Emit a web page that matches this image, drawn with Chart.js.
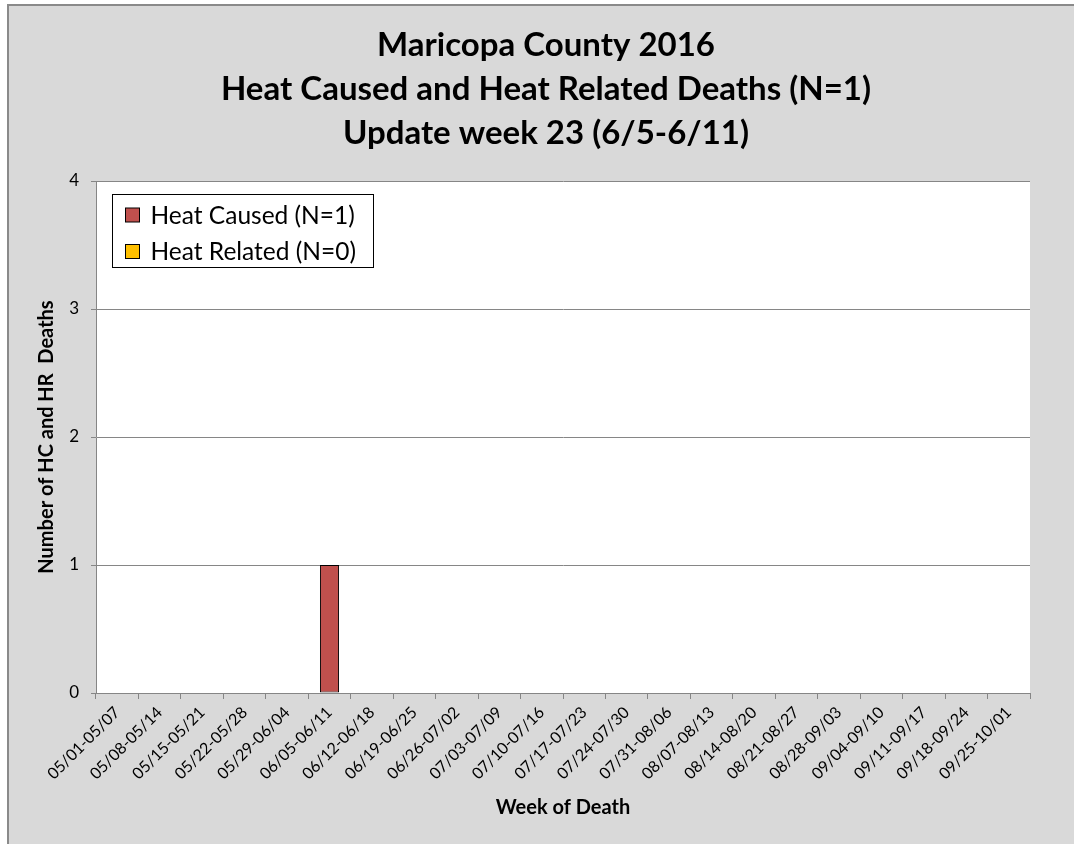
<!DOCTYPE html>
<html>
<head>
<meta charset="utf-8">
<script src="https://cdn.jsdelivr.net/npm/chart.js@4/dist/chart.umd.min.js"></script>
<style>
html,body{margin:0;padding:0;background:#ffffff;}
#wrap{position:absolute;left:0;top:0;width:1074px;height:844px;}
</style>
</head>
<body>
<div id="wrap"><canvas id="c" width="1074" height="844"></canvas></div>
<script>
// ---- data ----
const categories = ['05/01-05/07','05/08-05/14','05/15-05/21','05/22-05/28','05/29-06/04','06/05-06/11',
  '06/12-06/18','06/19-06/25','06/26-07/02','07/03-07/09','07/10-07/16','07/17-07/23','07/24-07/30',
  '07/31-08/06','08/07-08/13','08/14-08/20','08/21-08/27','08/28-09/03','09/04-09/10','09/11-09/17',
  '09/18-09/24','09/25-10/01'];
const heatCaused  = [0,0,0,0,0,1,0,0,0,0,0,0,0,0,0,0,0,0,0,0,0,0];
const heatRelated = [0,0,0,0,0,0,0,0,0,0,0,0,0,0,0,0,0,0,0,0,0,0];
const seriesLabels = ['Heat Caused (N=1)','Heat Related (N=0)'];
const yTicks = [0,1,2,3,4];
const titleLines = ['Maricopa County 2016','Heat Caused and Heat Related Deaths (N=1)','Update week 23 (6/5-6/11)'];
const xTitle = 'Week of Death';
const yTitle = 'Number of HC and HR  Deaths';

const FONT = 'Lato, "Open Sans", sans-serif';
const AXIS = '#868686';

const bgPlugin = {
  id: 'bg',
  beforeDraw(chart) {
    const ctx = chart.ctx, W = chart.width, H = chart.height, a = chart.chartArea;
    ctx.save();
    ctx.fillStyle = '#ffffff';
    ctx.fillRect(0, 0, W, H);
    ctx.fillStyle = '#d9d9d9';
    ctx.fillRect(7, 4, W - 7, H - 4);
    ctx.fillStyle = '#8a8a8a';
    ctx.fillRect(7, 4, W - 7, 2);
    ctx.fillRect(7, 4, 2, H - 4);
    ctx.fillStyle = '#ffffff';
    ctx.fillRect(a.left, a.top, a.right - a.left, a.bottom - a.top);
    ctx.restore();
  }
};

// chart title, centred on the outer chart frame
const titlePlugin = {
  id: 'frameTitle',
  afterDraw(chart) {
    const ctx = chart.ctx;
    ctx.save();
    ctx.font = 'bold 33px ' + FONT;
    ctx.fillStyle = '#000000';
    ctx.textAlign = 'center';
    ctx.textBaseline = 'middle';
    titleLines.forEach((t, i) => ctx.fillText(t, 546, 45 + i * 44));
    ctx.restore();
  }
};

const legendPlugin = {
  id: 'boxLegend',
  afterDraw(chart) {
    const ctx = chart.ctx, a = chart.chartArea;
    const bx = a.left + 16.5, by = a.top + 13.5, bw = 261, bh = 73;
    ctx.save();
    ctx.fillStyle = '#ffffff';
    ctx.fillRect(bx, by, bw, bh);
    ctx.strokeStyle = '#000000';
    ctx.lineWidth = 1;
    ctx.strokeRect(bx, by, bw, bh);
    ctx.font = '24.5px ' + FONT;
    ctx.textBaseline = 'middle';
    ctx.textAlign = 'left';
    chart.data.datasets.forEach((ds, i) => {
      const cy = by + 20.5 + i * 36.5;
      ctx.fillStyle = ds.backgroundColor;
      ctx.fillRect(bx + 13, cy - 7, 14, 14);
      ctx.strokeStyle = '#000000';
      ctx.strokeRect(bx + 13, cy - 7, 14, 14);
      ctx.fillStyle = '#000000';
      ctx.fillText(ds.label, bx + 38, cy + 1);
    });
    ctx.restore();
  }
};

new Chart(document.getElementById('c'), {
  type: 'bar',
  data: {
    labels: categories,
    datasets: [
      { label: seriesLabels[0], data: heatCaused, backgroundColor: '#c0504d', borderColor: '#000000',
        borderWidth: c => (c.raw > 0 ? 1 : 0), borderSkipped: false },
      { label: seriesLabels[1], data: heatRelated, backgroundColor: '#ffc000', borderColor: '#000000',
        borderWidth: c => (c.raw > 0 ? 1 : 0), borderSkipped: false }
    ]
  },
  options: {
    responsive: false,
    animation: false,
    devicePixelRatio: 1,
    layout: { padding: { left: 0, right: 44, top: 181, bottom: 0 } },
    datasets: { bar: { barPercentage: 0.45, categoryPercentage: 1 } },
    plugins: {
      legend: { display: false },
      tooltip: { enabled: false },
      title: { display: false }
    },
    scales: {
      x: {
        stacked: true,
        offset: true,
        afterFit: s => { s.height = 151; },
        grid: { offset: true, drawOnChartArea: false, drawTicks: true, tickLength: 6, color: AXIS },
        border: { color: AXIS, width: 1 },
        ticks: { autoSkip: false, maxRotation: 45, minRotation: 45, color: '#000000', padding: 4,
                 font: { family: FONT, size: 16 } },
        title: { display: true, text: xTitle, color: '#000000',
                 font: { family: FONT, size: 20, weight: 'bold' }, padding: { top: 0, bottom: 24 } }
      },
      y: {
        stacked: true,
        min: yTicks[0],
        max: yTicks[yTicks.length - 1],
        afterFit: s => { s.width = 96; },
        afterBuildTicks: s => { s.ticks = yTicks.map(v => ({ value: v })); },
        grid: { color: AXIS, tickLength: 5, lineWidth: 1 },
        border: { color: AXIS, width: 1 },
        ticks: { color: '#000000', padding: 12, font: { family: FONT, size: 17 } },
        title: { display: true, text: yTitle, color: '#000000',
                 font: { family: FONT, size: 20, weight: 'bold' }, padding: { top: 35, bottom: 0 } }
      }
    }
  },
  plugins: [bgPlugin, titlePlugin, legendPlugin]
});
</script>
</body>
</html>
